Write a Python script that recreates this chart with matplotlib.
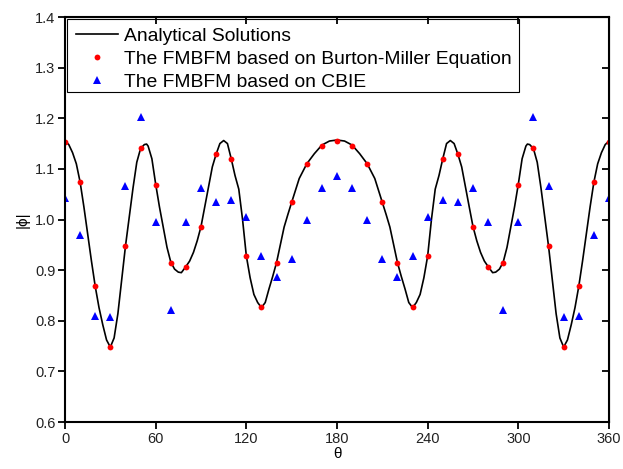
import numpy as np
import matplotlib
matplotlib.use("Agg")
import matplotlib.pyplot as plt
from matplotlib.patches import Rectangle
from matplotlib.ticker import FormatStrFormatter

plt.rcParams["font.family"] = ["Liberation Sans", "DejaVu Sans"]

# analytical curve
theta_exact = [0, 2.5, 5, 7.5, 10, 12.5, 15, 17.5, 20, 22.5, 25, 27.5, 30, 32.5, 35, 37.5,
               40, 42.5, 45, 47.5, 50, 52.5, 54, 55, 57.5, 60, 62.5, 65, 67.5, 70, 72.5,
               75, 77, 80, 82.5, 85, 87.5, 90, 92.5, 95, 97.5, 100, 102.5, 105, 107.5,
               110, 112.5, 115, 117.5, 120, 122.5, 125, 127.5, 130, 132.5, 135, 137.5,
               140, 142.5, 145, 147.5, 150, 155, 160, 165, 170, 175, 180,
               185, 190, 195, 200, 205, 210, 212.5, 215, 217.5, 220, 222.5, 225, 227.5,
               230, 232.5, 235, 237.5, 240, 242.5, 245, 247.5, 250, 252.5, 255, 257.5,
               260, 262.5, 265, 267.5, 270, 272.5, 275, 277.5, 280, 283, 285, 287.5,
               290, 292.5, 295, 297.5, 300, 302.5, 305, 306, 307.5, 310, 312.5, 315,
               317.5, 320, 322.5, 325, 327.5, 330, 332.5, 335, 337.5, 340, 342.5, 345,
               347.5, 350, 352.5, 355, 357.5, 360]
phi_exact = [1.155, 1.148, 1.132, 1.110, 1.074, 1.025, 0.972, 0.918, 0.868, 0.826, 0.792,
             0.762, 0.748, 0.766, 0.814, 0.880,
             0.947, 1.005, 1.062, 1.113, 1.140, 1.148, 1.149, 1.145, 1.120, 1.070, 1.025,
             0.985, 0.945, 0.916, 0.902,
             0.896, 0.895, 0.907, 0.918, 0.935, 0.958, 0.986, 1.025, 1.064, 1.104, 1.129,
             1.150, 1.156, 1.150,
             1.120, 1.087, 1.060, 1.000, 0.928, 0.885, 0.852, 0.836, 0.826, 0.836, 0.863,
             0.888,
             0.915, 0.950, 0.985, 1.010, 1.034, 1.081, 1.110, 1.130, 1.147, 1.155, 1.157,
             1.155, 1.147, 1.130, 1.110, 1.081, 1.034, 1.010, 0.985, 0.950, 0.915, 0.888,
             0.863, 0.836,
             0.826, 0.836, 0.852, 0.885, 0.928, 1.000, 1.060, 1.087, 1.120, 1.150, 1.156,
             1.150,
             1.129, 1.104, 1.064, 1.025, 0.986, 0.958, 0.935, 0.918, 0.907, 0.895, 0.896,
             0.902,
             0.916, 0.945, 0.985, 1.025, 1.070, 1.120, 1.145, 1.149, 1.148, 1.140, 1.113,
             1.062,
             1.005, 0.947, 0.880, 0.814, 0.766, 0.748, 0.762, 0.792, 0.826, 0.868, 0.918,
             0.972,
             1.025, 1.074, 1.110, 1.132, 1.148, 1.155]

theta_pts = list(range(0, 361, 10))
phi_bm = [1.154, 1.074, 0.868, 0.749, 0.947, 1.141, 1.069, 0.915, 0.907, 0.986,
          1.129, 1.120, 0.928, 0.827, 0.915, 1.034, 1.110, 1.146, 1.156,
          1.146, 1.110, 1.034, 0.915, 0.827, 0.928, 1.120, 1.129, 0.986, 0.907,
          0.915, 1.069, 1.141, 0.947, 0.749, 0.868, 1.074, 1.154]
phi_cbie = [1.043, 0.970, 0.810, 0.808, 1.067, 1.203, 0.996, 0.822, 0.995, 1.063,
            1.034, 1.038, 1.005, 0.928, 0.886, 0.921, 0.999, 1.062, 1.085,
            1.062, 0.999, 0.921, 0.886, 0.928, 1.005, 1.038, 1.034, 1.063, 0.995,
            0.822, 0.996, 1.203, 1.067, 0.808, 0.810, 0.970, 1.043]

fig = plt.figure(figsize=(6.23, 4.69), dpi=100)
ax = fig.add_axes([65 / 623, 1 - 422 / 469, 544 / 623, 405 / 469])

ax.plot(theta_exact, phi_exact, color="black", lw=1.2, label="Analytical Solutions")
ax.plot(theta_pts, phi_bm, "o", color="#ff0000", ms=4.2, mew=0,
        label="The FMBFM based on Burton-Miller Equation")
ax.plot(theta_pts, phi_cbie, "^", color="#0000ff", ms=5.5, mew=0,
        label="The FMBFM based on CBIE")

ax.set_xlim(0, 360)
ax.set_ylim(0.6, 1.4)
ax.set_xticks(np.arange(0, 361, 60))
ax.set_yticks(np.arange(0.6, 1.41, 0.1))
ax.yaxis.set_major_formatter(FormatStrFormatter("%.1f"))
ax.tick_params(direction="out", length=5, width=1.3, labelsize=10.5, pad=2,
               labelcolor="#222222")
for s in ax.spines.values():
    s.set_linewidth(1.5)

# mirrored ticks pointing inward on top and right
top = ax.secondary_xaxis("top")
top.set_xticks(np.arange(0, 361, 60))
top.tick_params(direction="in", length=5, width=1.3, labeltop=False)
right = ax.secondary_yaxis("right")
right.set_yticks(np.arange(0.6, 1.41, 0.1))
right.tick_params(direction="in", length=5, width=1.3, labelright=False)

ax.set_xlabel("θ", fontsize=11, labelpad=1)
ax.set_ylabel("|ϕ|", fontsize=11, labelpad=4)

leg = ax.legend(loc="upper left", bbox_to_anchor=(2 / 544, 1 - 2 / 405),
                borderaxespad=0, fontsize=13.9, frameon=False,
                handlelength=2.2, handletextpad=0.3, labelspacing=0.28,
                borderpad=0.45, numpoints=1)
# legend box drawn separately, tighter at the bottom than matplotlib's frame
ax.add_patch(Rectangle((2 / 544, 1 - 75 / 405), 452 / 544, 73 / 405,
                       transform=ax.transAxes, facecolor="none",
                       edgecolor="black", lw=0.8, zorder=5))

fig.savefig("out.png", dpi=100)
